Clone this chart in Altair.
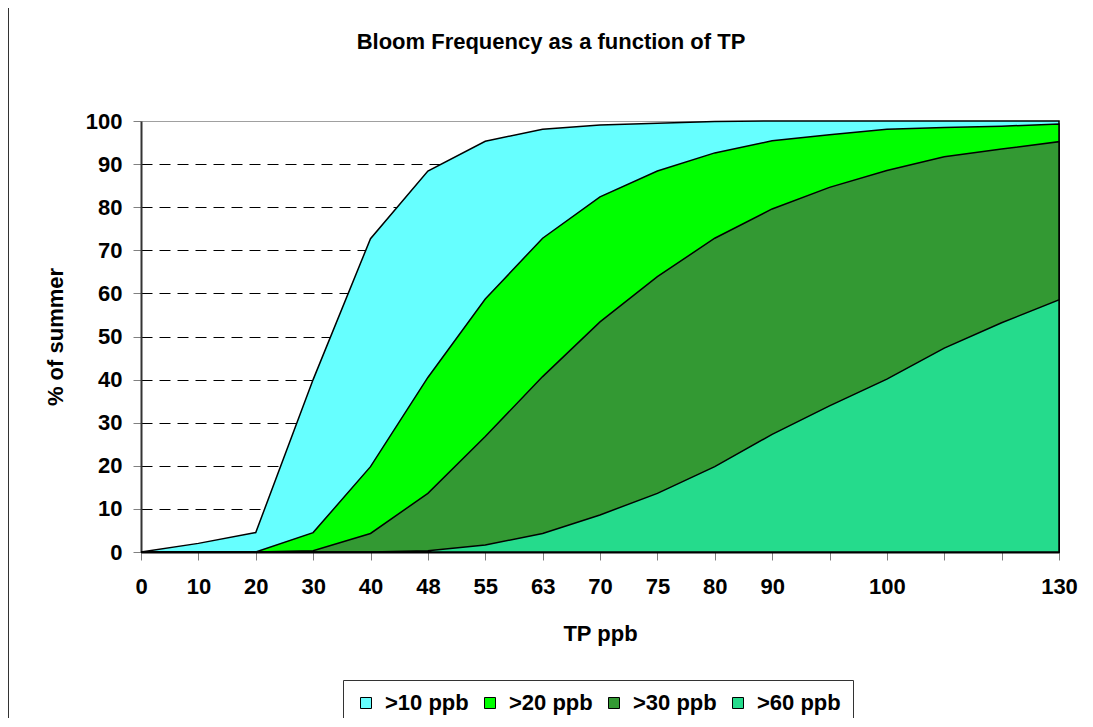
import altair as alt
import pandas as pd

# ---- data ----
tp_labels = ["0", "10", "20", "30", "40", "48", "55", "63", "70", "75", "80", "90", "", "100", "", "", "130"]
series_names = [">10 ppb", ">20 ppb", ">30 ppb", ">60 ppb"]
gt10 = [0, 2, 4.5, 40, 72.7, 88.4, 95.3, 98.1, 99.1, 99.5, 99.9, 100, 100, 100, 100, 100, 100]
gt20 = [0, 0, 0, 4.5, 19.8, 40.5, 58.7, 72.8, 82.4, 88.4, 92.6, 95.4, 96.8, 98.1, 98.5, 98.8, 99.3]
gt30 = [0, 0, 0, 0.3, 4.3, 13.6, 26.8, 40.7, 53.4, 63.9, 72.8, 79.6, 84.6, 88.5, 91.7, 93.5, 95.2]
gt60 = [0, 0, 0, 0, 0, 0.3, 1.6, 4.3, 8.6, 13.6, 19.8, 27.3, 33.9, 40.1, 47.3, 53.2, 58.5]
colors = ["#66FFFF", "#00FF00", "#339933", "#25DB8C"]
y_ticks = list(range(0, 101, 10))
title_text = "Bloom Frequency as a function of TP"

rows = []
for name, vals in zip(series_names, [gt10, gt20, gt30, gt60]):
    for i, (lab, v) in enumerate(zip(tp_labels, vals)):
        rows.append({"pos": i, "tp": lab, "series": name, "pct": v})
df = pd.DataFrame(rows)

W, H = 918, 431
PAD = {"left": 133, "top": 113, "right": 25, "bottom": 166}
FONT = "Liberation Sans"
labels_js = "[" + ",".join("'" + l + "'" for l in tp_labels) + "]"

x_enc = alt.X(
    "pos:Q",
    scale=alt.Scale(domain=[0, len(tp_labels) - 1], nice=False, zero=False),
    axis=alt.Axis(
        values=list(range(len(tp_labels))),
        labelExpr=labels_js + "[datum.value]",
        labelOverlap=False, labelFlush=False,
        title="TP ppb", grid=False,
        tickSize=8, tickColor="#808080", tickWidth=1,
        domainColor="black", domainWidth=2,
        labelFont=FONT, labelFontSize=22, labelFontWeight="bold", labelColor="black",
        labelPadding=16,
        titleFont=FONT, titleFontSize=22, titleFontWeight="bold", titleColor="black",
        titleX=W / 2, titleY=81, titleBaseline="middle", titleAlign="center",
    ),
)

y_enc = alt.Y(
    "pct:Q",
    scale=alt.Scale(domain=[0, 100], nice=False),
    axis=alt.Axis(
        values=y_ticks,
        title="% of summer",
        grid=True,
        gridColor=alt.condition("datum.value == 100", alt.value("#808080"), alt.value("black")),
        gridDash=alt.condition("datum.value == 100", alt.value([1, 0]), alt.value([11, 7])),
        gridWidth=1,
        tickSize=8, tickColor="#808080", tickWidth=1,
        domainColor="#333333", domainWidth=2,
        labelFont=FONT, labelFontSize=22, labelFontWeight="bold", labelColor="black",
        labelPadding=11,
        titleFont=FONT, titleFontSize=22, titleFontWeight="bold", titleColor="black",
        titleX=-86, titleY=H / 2, titleAngle=-90, titleAlign="center", titleBaseline="middle",
    ),
)

color_enc = alt.Color(
    "series:N",
    scale=alt.Scale(domain=series_names, range=colors),
    legend=alt.Legend(
        title=None, orient="none", legendX=202, legendY=559,
        direction="horizontal", columns=4,
        symbolType="square", symbolSize=121,
        symbolStrokeColor="black", symbolStrokeWidth=1, symbolOpacity=1,
        labelFont=FONT, labelFontSize=22, labelFontWeight="bold", labelColor="black",
        labelOffset=8, columnPadding=10, padding=12,
        strokeColor="#333333", fillColor="white",
    ),
)

base = alt.Chart(df).encode(x=x_enc, y=y_enc, color=color_enc)
layers = [
    base.transform_filter(alt.datum.series == n).mark_area(
        stroke="black", strokeWidth=1.5, opacity=1, strokeJoin="miter"
    )
    for n in series_names
]

frame_df = pd.DataFrame({"a": [0]})
top_border = alt.Chart(frame_df).mark_rule(color="#333333", strokeWidth=2).encode(
    x=alt.value(-134), x2=alt.value(W + PAD["right"]), y=alt.value(-114)
)
left_border = alt.Chart(frame_df).mark_rule(color="#333333", strokeWidth=2).encode(
    x=alt.value(-133), y=alt.value(-114), y2=alt.value(H + PAD["bottom"])
)
title_mark = alt.Chart(frame_df).mark_text(
    text=title_text, font=FONT, fontSize=22, fontWeight="bold", color="black",
    align="center", baseline="middle",
).encode(x=alt.value(410), y=alt.value(-79))

chart = alt.layer(*layers, top_border, left_border, title_mark).properties(
    width=W, height=H,
    padding=PAD,
    autosize=alt.AutoSizeParams(type="none"),
).configure_view(stroke="transparent")

chart.save("out.html", embed_options={"renderer": "svg", "actions": False})
